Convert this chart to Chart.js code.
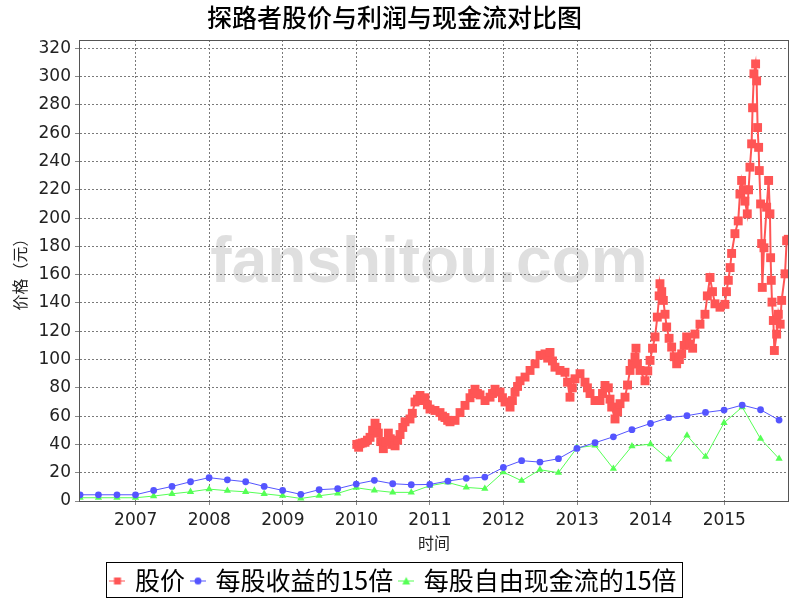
<!DOCTYPE html>
<html><head><meta charset="utf-8">
<script src="https://cdn.jsdelivr.net/npm/chart.js@4/dist/chart.umd.min.js"></script>
<style>html,body{margin:0;padding:0;background:#fff}#wrap{width:800px;height:600px}</style>
</head><body><div id="wrap"><canvas id="c" width="800" height="600"></canvas></div>
<script>
const chartTitle = '探路者股价与利润与现金流对比图';
const yAxisTitle = '价格（元）';
const xAxisTitle = '时间';
const watermarkText = 'fanshitou.com';
const seriesNames = ['股价', '每股收益的15倍', '每股自由现金流的15倍'];
const yearTicks = [2007, 2008, 2009, 2010, 2011, 2012, 2013, 2014, 2015];

const quarterEnds = [
 '2006-03-31','2006-06-30','2006-09-30','2006-12-31',
 '2007-03-31','2007-06-30','2007-09-30','2007-12-31',
 '2008-03-31','2008-06-30','2008-09-30','2008-12-31',
 '2009-03-31','2009-06-30','2009-09-30','2009-12-31',
 '2010-03-31','2010-06-30','2010-09-30','2010-12-31',
 '2011-03-31','2011-06-30','2011-09-30','2011-12-31',
 '2012-03-31','2012-06-30','2012-09-30','2012-12-31',
 '2013-03-31','2013-06-30','2013-09-30','2013-12-31',
 '2014-03-31','2014-06-30','2014-09-30','2014-12-31',
 '2015-03-31','2015-06-30','2015-09-30'
];
const eps15 = [4.4,4.4,4.4,4.4, 7.5,10.3,13.6,16.5, 15.0,13.6,10.3,7.5, 4.7,8.0,8.7,12.0,
 14.6,12.2,11.5,11.7, 14.1,16.0,16.9,23.7, 28.5,27.5,29.9,37.2, 41.2,45.4,50.4,54.8,
 58.9,60.3,62.6,64.3, 67.8,64.5,57.2];
const fcf15 = [2.3,2.3,2.3,2.3, 3.5,5.1,6.5,8.4, 7.3,6.5,5.1,3.7, 1.8,3.7,5.4,9.4,
 7.5,6.1,6.1,10.8, 13.1,9.6,8.7,20.4, 14.3,22.1,20.0,37.6, 39.3,22.8,38.8,40.2,
 29.4,46.4,31.3,55.3, 66.4,44.0,29.9];

// price: dates in decimal years, values in yuan
const priceDates = [
 2010.005,2010.03,2010.049,2010.08,2010.117,2010.15,2010.185,2010.22,2010.253,2010.275,
 2010.298,2010.33,2010.366,2010.40,2010.434,2010.46,2010.48,2010.525,2010.56,2010.593,
 2010.63,2010.661,2010.728,2010.76,2010.796,2010.83,2010.864,2010.90,2010.932,2010.965,
 2011.0,2011.068,2011.136,2011.17,2011.204,2011.24,2011.272,2011.34,2011.408,2011.476,
 2011.544,2011.58,2011.612,2011.645,2011.68,2011.748,2011.816,2011.85,2011.884,2011.952,
 2011.985,2012.02,2012.088,2012.12,2012.156,2012.19,2012.224,2012.292,2012.36,2012.428,
 2012.496,2012.563,2012.60,2012.631,2012.665,2012.699,2012.767,2012.835,2012.87,2012.903,
 2012.935,2012.971,2013.039,2013.107,2013.14,2013.175,2013.243,2013.311,2013.345,2013.379,
 2013.424,2013.447,2013.47,2013.515,2013.55,2013.583,2013.651,2013.685,2013.719,2013.75,
 2013.787,2013.80,2013.82,2013.855,2013.923,2013.96,2013.991,2014.025,2014.059,2014.09,
 2014.115,2014.126,2014.15,2014.172,2014.195,2014.217,2014.25,2014.285,2014.32,2014.353,
 2014.39,2014.421,2014.455,2014.489,2014.534,2014.57,2014.602,2014.67,2014.738,2014.77,
 2014.806,2014.84,2014.874,2014.942,2015.009,2015.03,2015.055,2015.08,2015.10,2015.145,
 2015.19,2015.213,2015.236,2015.26,2015.281,2015.313,2015.33,2015.349,2015.372,2015.385,
 2015.403,2015.426,2015.44,2015.453,2015.467,2015.476,2015.494,2015.508,2015.517,2015.54,
 2015.576,2015.603,2015.621,2015.63,2015.639,2015.649,2015.667,2015.681,2015.712,2015.735,
 2015.76,2015.78,2015.826,2015.848,2015.87
];
const priceValues = [
 40,38,40.5,41,41.5,43,45,50,55,52,
 48,42,37,42,48,44,40,39,43,47,
 52,56,58,62,70,72,74.6,71,73,68,
 65,64,62.5,60,59,57,56,57,62.5,67.6,
 73,76,79,76,75,71,73.4,76,79,77,
 73,70,66.4,71,77,81,85,87.6,92.3,97,
 103,104,101,105,99,94.6,92.3,91,84,73.4,
 80,86.4,90,84,80,76,71,71,76,81.7,
 80,72,66.4,58,63,68.8,73.4,82,92.3,97,
 101.7,108,97,92.3,85,92,99.4,108,116,130,
 145,153.6,148,141.8,132,123,115,108.8,102,97,
 100,104,110,116,111,108,118,125,132,145,
 158,148,139.4,137,139,148,156,165,175,189,
 198,217,226.6,220,212,203,220,236,252.5,278,
 302,309,297,264,250,233.6,210,182,151,179,
 207.7,226.6,203,172,156,140.6,127.6,106.4,118,132,
 125,141.8,160.6,184,185
];

const colors = ['#ff5555', '#5555ff', '#55ff55'];
const styles = ['rect', 'circle', 'triangle'];

function toYear(s) {
  const [y, m, d] = s.split('-').map(Number);
  const a = Date.UTC(y, 0, 1), b = Date.UTC(y + 1, 0, 1);
  return y + (Date.UTC(y, m - 1, d) - a) / (b - a);
}
const qx = quarterEnds.map(toYear);

function legendIcon(color, style) {
  const c = document.createElement('canvas');
  c.width = 16; c.height = 12;
  const g = c.getContext('2d');
  g.strokeStyle = color; g.fillStyle = color; g.lineWidth = 1;
  g.beginPath(); g.moveTo(0, 6.5); g.lineTo(16, 6.5); g.stroke();
  g.beginPath();
  if (style === 'rect') g.rect(4.5, 3, 7, 7);
  else if (style === 'circle') g.arc(8, 6.5, 3.5, 0, Math.PI * 2);
  else { g.moveTo(8, 2.5); g.lineTo(12, 10); g.lineTo(4, 10); g.closePath(); }
  g.fill();
  return c;
}
const icons = colors.map((c, i) => legendIcon(c, styles[i]));

const bgPlugin = {
  id: 'bg',
  beforeDraw(chart) {
    const {ctx} = chart;
    ctx.save();
    ctx.fillStyle = '#fff';
    ctx.fillRect(0, 0, chart.width, chart.height);
    ctx.font = 'bold 64px "Liberation Sans"';
    ctx.fillStyle = '#dfdfdf';
    ctx.textAlign = 'center';
    ctx.textBaseline = 'alphabetic';
    ctx.fillText(watermarkText, 429, 282);
    ctx.restore();
  },
  afterDraw(chart) {
    const {ctx, chartArea: a} = chart;
    ctx.save();
    ctx.strokeStyle = '#555';
    ctx.lineWidth = 1;
    ctx.strokeRect(a.left + 0.5, a.top + 0.5, a.right - a.left - 1, a.bottom - a.top);
    const lg = chart.legend;
    if (lg && lg.legendHitBoxes && lg.legendHitBoxes.length) {
      const hb = lg.legendHitBoxes;
      const l = hb[0].left - 6;
      const last = hb[hb.length - 1];
      const r = last.left + last.width + 6;
      ctx.strokeStyle = '#000';
      ctx.strokeRect(Math.round(l) + 0.5, lg.top + 2.5, Math.round(r - l), 35);
    }
    ctx.restore();
  }
};

const tickFont = {family: '"DejaVu Sans"', size: 17};
const cjk = '"Noto Sans CJK SC"';

new Chart(document.getElementById('c'), {
  type: 'line',
  data: {
    datasets: [
      {
        label: seriesNames[0],
        data: priceDates.map((d, i) => ({x: d, y: priceValues[i]})),
        borderColor: colors[0], backgroundColor: colors[0], borderWidth: 2,
        pointStyle: 'rect', pointRadius: 6.3, pointBorderWidth: 0,
        pointBackgroundColor: colors[0]
      },
      {
        label: seriesNames[1],
        data: qx.map((d, i) => ({x: d, y: eps15[i]})),
        borderColor: colors[1], backgroundColor: colors[1], borderWidth: 1,
        pointStyle: 'circle', pointRadius: 3.4, pointBorderWidth: 0,
        pointBackgroundColor: colors[1]
      },
      {
        label: seriesNames[2],
        data: qx.map((d, i) => ({x: d, y: fcf15[i]})),
        borderColor: colors[2], backgroundColor: colors[2], borderWidth: 1,
        pointStyle: 'triangle', pointRadius: 4.2, pointBorderWidth: 0,
        pointBackgroundColor: colors[2]
      }
    ]
  },
  options: {
    responsive: false,
    devicePixelRatio: 1,
    animation: false,
    events: [],
    layout: {padding: {left: 0, right: 11, top: 0, bottom: 0}},
    scales: {
      x: {
        type: 'linear',
        min: 2006.229, max: 2015.88,
        afterBuildTicks: s => { s.ticks = yearTicks.map(v => ({value: v})); },
        afterFit: s => { s.height = 59; },
        ticks: {
          autoSkip: false, maxRotation: 0, padding: 5,
          font: tickFont, color: '#222',
          callback: v => String(v)
        },
        grid: {color: '#7a7a7a', lineWidth: 1, tickLength: 4, tickColor: '#888', drawTicks: true},
        border: {display: false, dash: [2, 2]},
        title: {display: true, text: xAxisTitle, font: {family: cjk, size: 16}, color: '#222', padding: {top: 4, bottom: 7}}
      },
      y: {
        type: 'linear',
        min: 0, max: 325.9,
        afterFit: s => { s.width = 79; },
        ticks: {
          stepSize: 20, includeBounds: false, padding: 4,
          font: tickFont, color: '#222'
        },
        grid: {color: '#7a7a7a', lineWidth: 1, tickLength: 4, tickColor: '#888', drawTicks: true},
        border: {display: true, color: '#888', dash: [2, 2]},
        title: {display: true, text: yAxisTitle, font: {family: cjk, size: 16}, color: '#222', padding: {top: 10, bottom: 0}}
      }
    },
    plugins: {
      title: {
        display: true, text: chartTitle,
        font: {family: cjk, size: 25, weight: 500}, color: '#000',
        padding: {top: 2, bottom: 8}
      },
      legend: {
        display: true, position: 'bottom', maxHeight: 40,
        labels: {
          usePointStyle: true, pointStyleWidth: 10, padding: 8,
          font: {family: cjk, size: 25}, color: '#000',
          generateLabels: () => seriesNames.map((t, i) => ({
            text: t, fillStyle: colors[i], strokeStyle: colors[i], lineWidth: 0,
            pointStyle: icons[i], hidden: false, datasetIndex: i, fontColor: '#000'
          }))
        }
      },
      tooltip: {enabled: false}
    }
  },
  plugins: [bgPlugin]
});
</script>
</body></html>
